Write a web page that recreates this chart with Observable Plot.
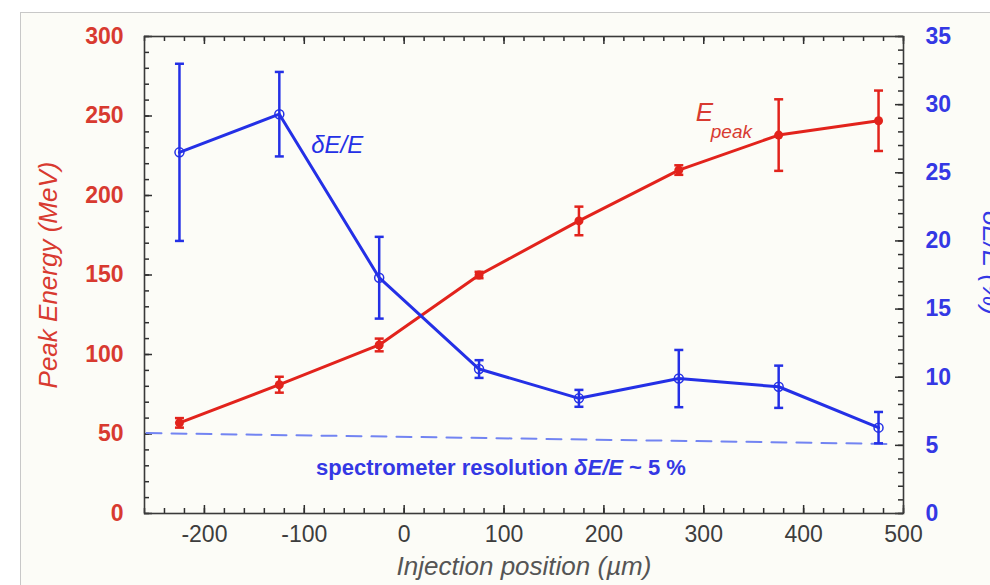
<!DOCTYPE html>
<html><head><meta charset="utf-8">
<script src="https://cdn.jsdelivr.net/npm/d3@7"></script>
<script src="https://cdn.jsdelivr.net/npm/@observablehq/plot@0.6"></script>
<style>
html,body{margin:0;padding:0;background:#fff;overflow:hidden;}
</style></head><body><div id="chart"></div>
<script>
// ---- data ----
const positions = [-225, -125, -25, 75, 175, 275, 375, 475];          // injection position (µm)
const peakEnergy = [57, 81, 106, 150, 184, 216, 238, 247];            // MeV
const peakEnergyErr = [3, 5, 4, 2, 9, 3, 22.5, 19];                   // MeV
const energySpread = [26.5, 29.3, 17.3, 10.6, 8.45, 9.9, 9.3, 6.3];   // δE/E (%)
const energySpreadErr = [6.5, 3.1, 3.0, 0.65, 0.62, 2.1, 1.55, 1.15]; // %
const resolutionX = [-258, 490];
const resolutionY = [5.9, 5.1];                                       // % (dashed line)
const xTicks = [-200, -100, 0, 100, 200, 300, 400, 500];
const leftTicks = [0, 50, 100, 150, 200, 250, 300];
const rightTicks = [0, 5, 10, 15, 20, 25, 30, 35];

const RED = "#e2231c", RED_TXT = "#d83a30", BLUE = "#2430e6", BLUE_TXT = "#3438e4", DASH = "#7284f2";
const FONT = "Liberation Sans, Arial, sans-serif";
const k = 300 / 35; // right-axis (%) to left-axis (MeV) conversion

const W = 990, H = 585, ML = 144, MR = 87, MT = 36, MB = 72;
const FW = W - ML - MR, FH = H - MT - MB;

const energy = positions.map((x, i) => ({x, y: peakEnergy[i], e: peakEnergyErr[i]}));
const spread = positions.map((x, i) => ({x, y: energySpread[i] * k, e: energySpreadErr[i] * k}));
const resolution = resolutionX.map((x, i) => ({x, y: resolutionY[i] * k}));

const cap = {draw(ctx, size) { const w = Math.sqrt(size / Math.PI); ctx.moveTo(-w, 0); ctx.lineTo(w, 0); }};
const TICK = "#2e2e2e";
const minorX = d3.range(-260, 501, 20), minorL = d3.range(0, 301, 10), minorR = d3.range(0, 36, 1).map(v => v * k);
const majorR = rightTicks.map(v => v * k);
const MIN = 5, MAJ = 8, TW = 1.5;

const chart = Plot.plot({
  width: W, height: H,
  marginLeft: ML, marginRight: MR, marginTop: MT, marginBottom: MB,
  x: {domain: [-260, 500]},
  y: {domain: [0, 300]},
  style: {fontFamily: FONT, background: "transparent", overflow: "visible"},
  marks: [
    // inward ticks
    Plot.tickX(minorX, {x: d => d, insetTop: FH - MIN, stroke: TICK, strokeWidth: TW}),
    Plot.tickX(xTicks, {x: d => d, insetTop: FH - MAJ, stroke: TICK, strokeWidth: TW}),
    Plot.tickX(minorX, {x: d => d, insetBottom: FH - MIN, stroke: TICK, strokeWidth: TW}),
    Plot.tickX(xTicks, {x: d => d, insetBottom: FH - MAJ, stroke: TICK, strokeWidth: TW}),
    Plot.tickY(minorL, {y: d => d, insetRight: FW - MIN, stroke: TICK, strokeWidth: TW}),
    Plot.tickY(leftTicks, {y: d => d, insetRight: FW - MAJ, stroke: TICK, strokeWidth: TW}),
    Plot.tickY(minorR, {y: d => d, insetLeft: FW - MIN, stroke: TICK, strokeWidth: TW}),
    Plot.tickY(majorR, {y: d => d, insetLeft: FW - MAJ, stroke: TICK, strokeWidth: TW}),
    // tick labels
    Plot.axisX(xTicks, {anchor: "bottom", tickSize: 0, tickPadding: 12, label: null, color: "#3d3d3d", fontSize: 23, tickFormat: d => String(d)}),
    Plot.axisY(leftTicks, {anchor: "left", tickSize: 0, tickPadding: 21, label: null, color: RED_TXT, fontSize: 23, fontWeight: "bold"}),
    Plot.axisY(majorR, {anchor: "right", tickSize: 0, tickPadding: 22, label: null, color: BLUE_TXT, fontSize: 23, fontWeight: "bold", tickFormat: d => String(Math.round(d / k))}),
    Plot.frame({stroke: "#3a3a3a", strokeWidth: 1.6}),
    // resolution line
    Plot.line(resolution, {x: "x", y: "y", stroke: DASH, strokeWidth: 2, strokeDasharray: "15,10"}),
    // peak energy
    Plot.ruleX(energy, {x: "x", y1: d => d.y - d.e, y2: d => d.y + d.e, stroke: RED, strokeWidth: 2.5}),
    Plot.dot(energy, {x: "x", y: d => d.y - d.e, symbol: cap, r: 4.5, stroke: RED, strokeWidth: 2.5}),
    Plot.dot(energy, {x: "x", y: d => d.y + d.e, symbol: cap, r: 4.5, stroke: RED, strokeWidth: 2.5}),
    Plot.line(energy, {x: "x", y: "y", stroke: RED, strokeWidth: 3}),
    Plot.dot(energy, {x: "x", y: "y", r: 4.5, fill: RED}),
    // energy spread
    Plot.ruleX(spread, {x: "x", y1: d => d.y - d.e, y2: d => d.y + d.e, stroke: BLUE, strokeWidth: 2.5}),
    Plot.dot(spread, {x: "x", y: d => d.y - d.e, symbol: cap, r: 4.5, stroke: BLUE, strokeWidth: 2.5}),
    Plot.dot(spread, {x: "x", y: d => d.y + d.e, symbol: cap, r: 4.5, stroke: BLUE, strokeWidth: 2.5}),
    Plot.line(spread, {x: "x", y: "y", stroke: BLUE, strokeWidth: 3}),
    Plot.dot(spread, {x: "x", y: "y", r: 4.5, stroke: BLUE, strokeWidth: 1.5, fill: "none"}),
    // annotations
    Plot.text(["δE/E"], {x: -93, y: 27 * k, text: d => d, textAnchor: "start", fill: BLUE, fontSize: 24, fontStyle: "italic"}),
    Plot.text(["E"], {x: 292, y: 252, text: d => d, textAnchor: "start", fill: RED_TXT, fontSize: 26, fontStyle: "italic"}),
    Plot.text(["peak"], {x: 307, y: 240, text: d => d, textAnchor: "start", fill: RED_TXT, fontSize: 19, fontStyle: "italic"}),
    Plot.text(["spectrometer resolution δE/E ~ 5 %"], {x: 97, y: 28.5, text: d => d, fill: BLUE_TXT, fontSize: 22, fontWeight: "bold", className: "reslabel"}),
    // axis titles
    Plot.text(["Peak Energy (MeV)"], {frameAnchor: "left", dx: -96, rotate: -90, textAnchor: "middle", lineAnchor: "middle", text: d => d, fill: RED_TXT, fontSize: 26, fontStyle: "italic"}),
    Plot.text(["δE/E (%)"], {frameAnchor: "right", dx: 79, dy: -12, rotate: 90, textAnchor: "middle", lineAnchor: "bottom", text: d => d, fill: BLUE_TXT, fontSize: 26, fontStyle: "italic"}),
    Plot.text(["Injection position (µm)"], {frameAnchor: "bottom", dy: 53, textAnchor: "middle", lineAnchor: "middle", text: d => d, fill: "#555", fontSize: 26, fontStyle: "italic"})
  ]
});

// outer panel border
const ns = "http://www.w3.org/2000/svg";
const rect = document.createElementNS(ns, "rect");
rect.setAttribute("x", 20.5); rect.setAttribute("y", 12.5);
rect.setAttribute("width", 1000); rect.setAttribute("height", 600);
rect.setAttribute("fill", "#fcfcf7"); rect.setAttribute("stroke", "#c8c8c8");
chart.insertBefore(rect, chart.firstChild);

document.getElementById("chart").appendChild(chart);

// italic δE/E inside the resolution label
const t = chart.querySelector(".reslabel text");
if (t) {
  const parts = [["spectrometer resolution ", "normal"], ["δE/E", "italic"], [" ~ 5 %", "normal"]];
  t.textContent = "";
  for (const [s, st] of parts) {
    const sp = document.createElementNS(ns, "tspan");
    sp.setAttribute("font-style", st);
    sp.textContent = s;
    t.appendChild(sp);
  }
}
</script></body></html>
